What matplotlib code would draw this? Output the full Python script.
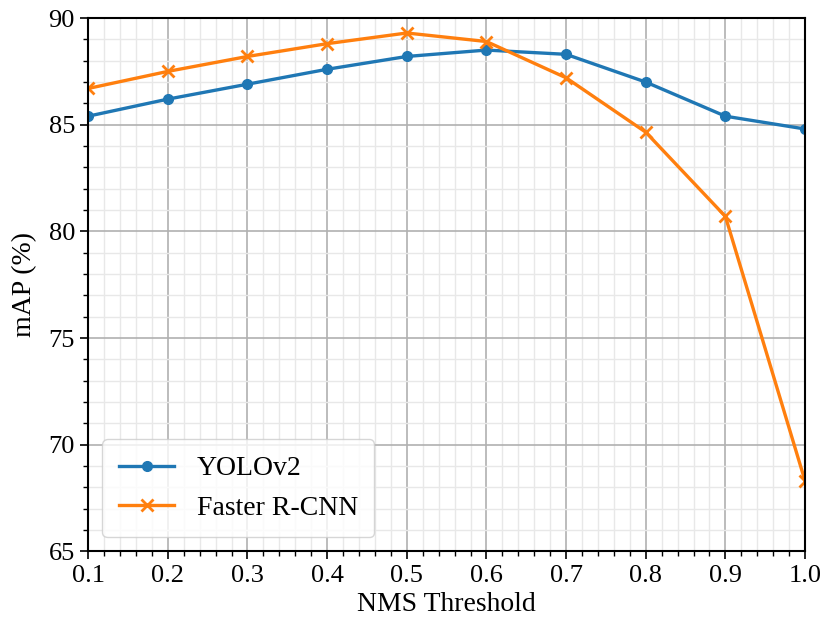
import matplotlib
matplotlib.use("Agg")
import matplotlib.pyplot as plt
from matplotlib.ticker import MultipleLocator

plt.rcParams['font.family'] = ['Liberation Serif', 'DejaVu Serif']
plt.rcParams['mathtext.fontset'] = 'stix'

# NMS thresholds and mAP values
thresholds = [0.1, 0.2, 0.3, 0.4, 0.5, 0.6, 0.7, 0.8, 0.9, 1.0]
yolo_map = [85.4, 86.2, 86.9, 87.6, 88.2, 88.5, 88.3, 87.0, 85.4, 84.8]
frcnn_map = [86.7, 87.5, 88.2, 88.8, 89.3, 88.9, 87.2, 84.65, 80.7, 68.3]

fig, ax = plt.subplots(figsize=(8.24, 6.23), dpi=100)

ax.plot(thresholds, yolo_map, color='#1f77b4', marker='o', lw=2.4, ms=7, label='YOLOv2')
ax.plot(thresholds, frcnn_map, color='#ff7f0e', marker='x', lw=2.4, ms=8, mew=2, label='Faster R-CNN')

ax.set_xlim(0.1, 1.0)
ax.set_ylim(65, 90)
ax.xaxis.set_major_locator(MultipleLocator(0.1))
ax.xaxis.set_minor_locator(MultipleLocator(0.02))
ax.yaxis.set_major_locator(MultipleLocator(5))
ax.yaxis.set_minor_locator(MultipleLocator(1))

ax.grid(which='major', color='#b0b0b0', lw=1.2)
ax.grid(which='minor', color='#e8e8e8', lw=1.0)
ax.set_axisbelow(True)

ax.tick_params(axis='both', which='major', labelsize=19, length=6, width=1.2)
ax.tick_params(axis='both', which='minor', length=3.5, width=1.0)
for s in ax.spines.values():
    s.set_linewidth(1.5)

ax.set_xlabel('NMS Threshold', fontsize=20, labelpad=4)
ax.set_ylabel('mAP (%)', fontsize=20, labelpad=8)

ax.legend(loc='lower left', fontsize=20, borderpad=0.6, handlelength=2.0)

fig.subplots_adjust(left=0.107, right=0.977, top=0.971, bottom=0.115)
fig.savefig('out.png', dpi=100)
